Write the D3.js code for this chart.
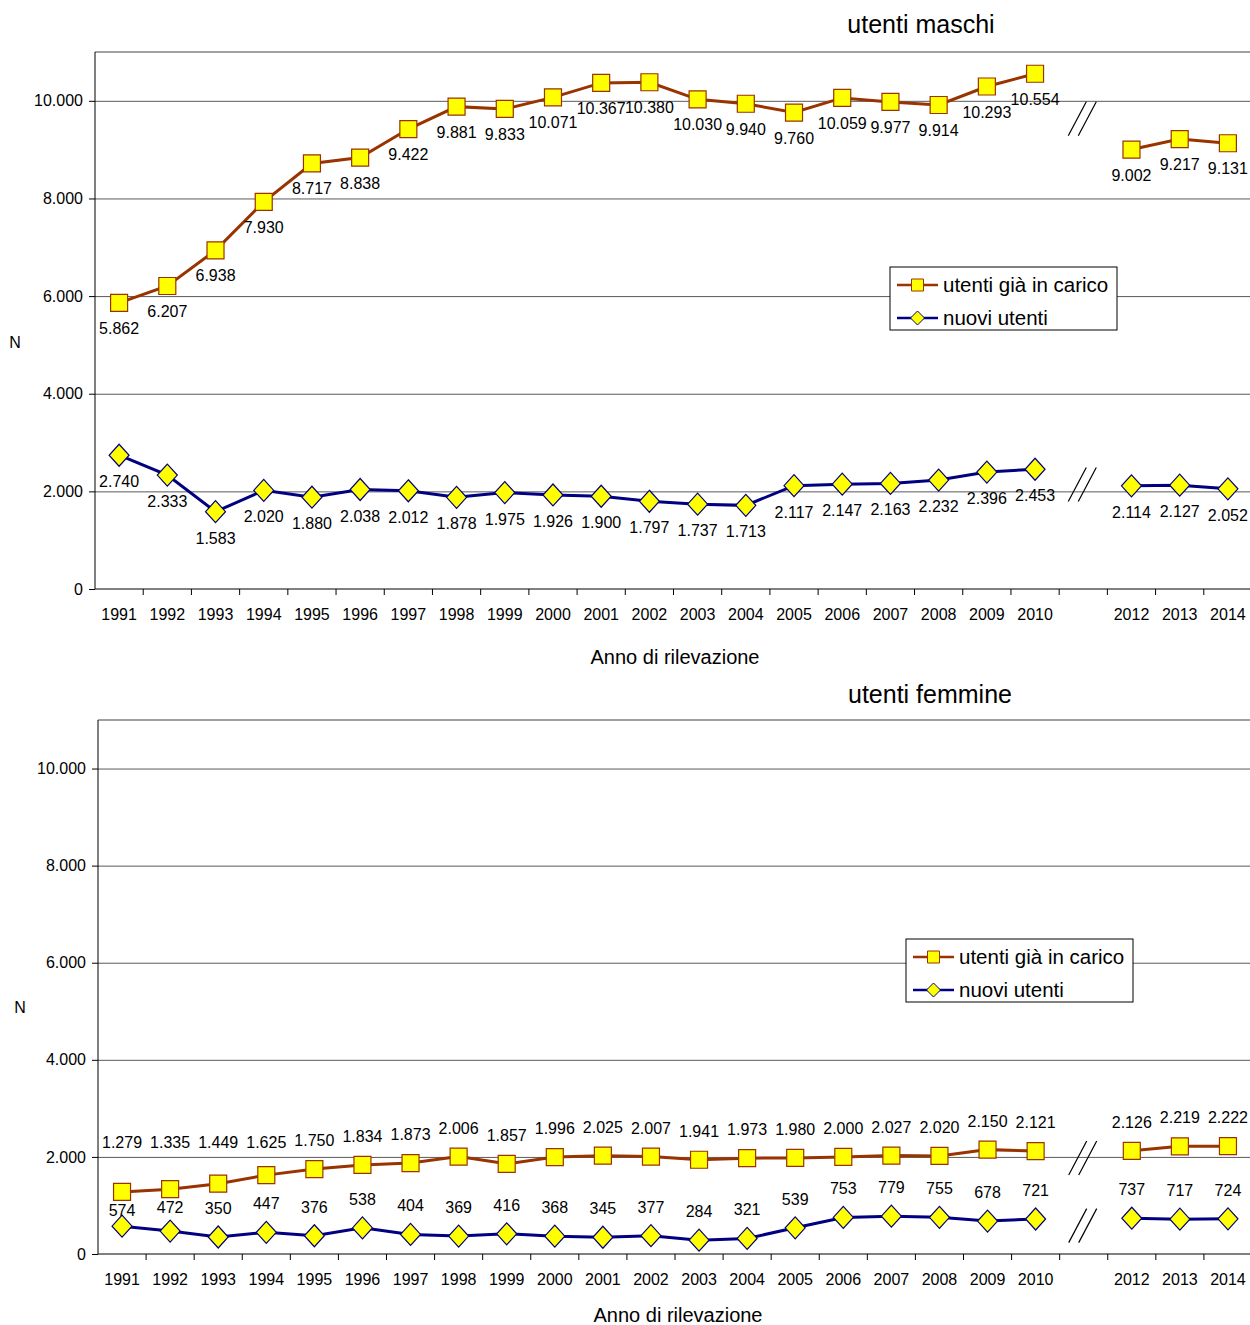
<!DOCTYPE html>
<html>
<head>
<meta charset="utf-8">
<script src="https://cdn.jsdelivr.net/npm/d3@7"></script>
<style>
    body { margin: 0; background: #fff; }
    svg { display: block; font-family: 'Liberation Sans', Arial, sans-serif; }
    .tick text { fill: #000; }
</style>
</head>
<body>
<div id="chart"></div>
<script>
//Datos
const ANNI = ['1991','1992','1993','1994','1995','1996','1997','1998','1999','2000',
    '2001','2002','2003','2004','2005','2006','2007','2008','2009','2010','2011','2012','2013','2014'];
const Y_TICKS = [0, 2000, 4000, 6000, 8000, 10000];
const SERIE = ['utenti già in carico', 'nuovi utenti'];

//2011 no disponible
const MASCHI_CARICO = [5862, 6207, 6938, 7930, 8717, 8838, 9422, 9881, 9833, 10071,
    10367, 10380, 10030, 9940, 9760, 10059, 9977, 9914, 10293, 10554, null, 9002, 9217, 9131];
const MASCHI_NUOVI = [2740, 2333, 1583, 2020, 1880, 2038, 2012, 1878, 1975, 1926,
    1900, 1797, 1737, 1713, 2117, 2147, 2163, 2232, 2396, 2453, null, 2114, 2127, 2052];
const FEMMINE_CARICO = [1279, 1335, 1449, 1625, 1750, 1834, 1873, 2006, 1857, 1996,
    2025, 2007, 1941, 1973, 1980, 2000, 2027, 2020, 2150, 2121, null, 2126, 2219, 2222];
const FEMMINE_NUOVI = [574, 472, 350, 447, 376, 538, 404, 369, 416, 368,
    345, 377, 284, 321, 539, 753, 779, 755, 678, 721, null, 737, 717, 724];

//Colores fijos
const COLOR_CARICO = '#993300',
COLOR_NUOVI = '#000080',
COLOR_MARKER = '#FFFF00';

let it = d3.formatLocale({decimal: ',', thousands: '.', grouping: [3], currency: ['€', '']});
let fmt = it.format(',d');

let svg = d3.select('#chart')
    .append('svg')
    .attr('width', 1250)
    .attr('height', 1325);

function squarePath(s) {
    return 'M' + (-s) + ',' + (-s) + 'H' + s + 'V' + s + 'H' + (-s) + 'Z';
}
function diamondPath(w, h) {
    return 'M0,' + (-h) + 'L' + w + ',0L0,' + h + 'L' + (-w) + ',0Z';
}

function drawChart(cfg) {
    let g = svg.append('g');

    let x = d3.scaleBand()
        .domain(ANNI)
        .range([cfg.left, cfg.right])
        .padding(0);

    let y = d3.scaleLinear()
        .domain([0, 11000])
        .range([cfg.bottom, cfg.top]);

    //Borde superior
    g.append('line')
        .attr('x1', cfg.left).attr('x2', 1250)
        .attr('y1', y(11000)).attr('y2', y(11000))
        .attr('stroke', '#a0a0a0')
        .attr('stroke-width', 2);

    //Eje Y + rejilla
    let yAxis = function(g) {
        g.call(d3.axisLeft(y).tickValues(Y_TICKS).tickSize(6).tickPadding(6).tickFormat(function(d) { return fmt(d); }));
        g.call(function(g){ g.select('.domain').remove(); });
        g.selectAll('.tick line').attr('stroke', '#000');
        g.selectAll('.tick text').attr('font-size', 16);
        g.selectAll('.tick').filter(function(d) { return d > 0; })
            .append('line')
            .attr('x1', 0)
            .attr('x2', 1250 - cfg.left)
            .attr('stroke', '#5a5a5a');
    }
    g.append('g')
        .attr('transform', 'translate(' + cfg.left + ',0)')
        .call(yAxis);

    //Eje X
    let xAxis = function(g) {
        g.call(d3.axisBottom(x).tickSize(0).tickPadding(20).tickFormat(function(d) { return d == '2011' ? '' : d; }));
        g.call(function(g){ g.select('.domain').remove(); });
        g.selectAll('.tick text').attr('font-size', 16);
    }
    g.append('g')
        .attr('transform', 'translate(0,' + cfg.bottom + ')')
        .call(xAxis);

    g.append('line')
        .attr('x1', cfg.left).attr('x2', 1250)
        .attr('y1', cfg.bottom).attr('y2', cfg.bottom)
        .attr('stroke', '#000');
    g.append('line')
        .attr('x1', cfg.left).attr('x2', cfg.left)
        .attr('y1', y(11000)).attr('y2', cfg.bottom)
        .attr('stroke', '#000');

    g.selectAll('.xtick')
        .data(ANNI)
        .enter()
        .append('line')
        .attr('class', 'xtick')
        .attr('x1', function(d) { return x(d) + x.bandwidth(); })
        .attr('x2', function(d) { return x(d) + x.bandwidth(); })
        .attr('y1', cfg.bottom)
        .attr('y2', cfg.bottom + 6)
        .attr('stroke', '#000');

    //Títulos
    g.append('text')
        .attr('x', cfg.titleX).attr('y', cfg.titleY)
        .attr('text-anchor', 'middle')
        .attr('font-size', 25)
        .text(cfg.title);

    g.append('text')
        .attr('x', cfg.nX).attr('y', cfg.nY)
        .attr('text-anchor', 'middle')
        .attr('font-size', 16)
        .text('N');

    g.append('text')
        .attr('x', cfg.xTitleX).attr('y', cfg.xTitleY)
        .attr('text-anchor', 'middle')
        .attr('font-size', 20)
        .text('Anno di rilevazione');

    //Líneas
    let series = [
        {key: 'carico', values: cfg.carico, color: COLOR_CARICO, dy: cfg.caricoDy},
        {key: 'nuovi', values: cfg.nuovi, color: COLOR_NUOVI, dy: cfg.nuoviDy}
    ];

    let line = d3.line()
        .defined(function(d) { return d != null; })
        .x(function(d, i) { return x(ANNI[i]) + x.bandwidth() / 2; })
        .y(function(d) { return y(d); });

    series.forEach(function(s) {
        g.append('path')
            .attr('d', line(s.values))
            .attr('fill', 'none')
            .attr('stroke', s.color)
            .attr('stroke-width', 3);

        let pts = s.values.map(function(v, i) { return {anno: ANNI[i], value: v, other: cfg.carico[i]}; })
            .filter(function(d) { return d.value != null; });

        g.selectAll('.mk_' + s.key)
            .data(pts)
            .enter()
            .append('path')
            .attr('class', 'mk_' + s.key)
            .attr('transform', function(d) { return 'translate(' + (x(d.anno) + x.bandwidth() / 2) + ',' + y(d.value) + ')'; })
            .attr('d', s.key == 'carico' ? squarePath(8.5) : diamondPath(10, 11))
            .attr('fill', COLOR_MARKER)
            .attr('stroke', s.color)
            .attr('stroke-width', 1.2);

        g.selectAll('.lb_' + s.key)
            .data(pts)
            .enter()
            .append('text')
            .attr('class', 'lb_' + s.key)
            .attr('x', function(d) { return x(d.anno) + x.bandwidth() / 2; })
            .attr('y', function(d) {
                let ly = y(d.value) + s.dy;
                if (cfg.caricoCap && s.key == 'carico') {
                    //Etiquetas por encima de la línea de 2.000
                    ly = Math.min(ly, y(2000) - 9);
                }
                if (cfg.caricoCap && s.key == 'nuovi') {
                    //Evitar que se pisen con los cuadrados
                    ly = Math.max(ly, y(d.other) + 24);
                }
                return ly;
            })
            .attr('text-anchor', 'middle')
            .attr('font-size', 16)
            .text(function(d) { return fmt(d.value); });
    });

    //Interrupción 2010-2012
    let cx = x('2011') + x.bandwidth() / 2;
    series.forEach(function(s) {
        let cy = y((s.values[19] + s.values[21]) / 2) + 7;
        [-6, 4].forEach(function(off) {
            g.append('line')
                .attr('x1', cx + off + 9).attr('y1', cy - 17)
                .attr('x2', cx + off - 9).attr('y2', cy + 17)
                .attr('stroke', '#000')
                .attr('stroke-width', 1.2);
        });
    });

    //Leyenda
    let leg = g.append('g')
        .attr('transform', 'translate(' + cfg.legX + ',' + cfg.legY + ')');
    leg.append('rect')
        .attr('width', 227).attr('height', 63)
        .attr('fill', '#fff')
        .attr('stroke', '#000');
    SERIE.forEach(function(name, i) {
        let ry = 18 + i * 33;
        let col = i == 0 ? COLOR_CARICO : COLOR_NUOVI;
        leg.append('line')
            .attr('x1', 7).attr('x2', 48)
            .attr('y1', ry).attr('y2', ry)
            .attr('stroke', col)
            .attr('stroke-width', 2.5);
        leg.append('path')
            .attr('transform', 'translate(27.5,' + ry + ')')
            .attr('d', i == 0 ? squarePath(6) : diamondPath(7, 7))
            .attr('fill', COLOR_MARKER)
            .attr('stroke', col);
        leg.append('text')
            .attr('x', 53).attr('y', ry + 7)
            .attr('font-size', 20.5)
            .text(name);
    });
}

drawChart({
    top: 52, bottom: 589, left: 95, right: 1252,
    title: 'utenti maschi', titleX: 921, titleY: 33,
    nX: 15, nY: 348, xTitleX: 675, xTitleY: 664,
    legX: 890, legY: 267,
    carico: MASCHI_CARICO, nuovi: MASCHI_NUOVI,
    caricoDy: 31, nuoviDy: 32, caricoCap: false
});

drawChart({
    top: 720, bottom: 1254, left: 98, right: 1252,
    title: 'utenti femmine', titleX: 930, titleY: 703,
    nX: 20, nY: 1013, xTitleX: 678, xTitleY: 1322,
    legX: 906, legY: 939,
    carico: FEMMINE_CARICO, nuovi: FEMMINE_NUOVI,
    caricoDy: -23, nuoviDy: -23, caricoCap: true
});
</script>
</body>
</html>
